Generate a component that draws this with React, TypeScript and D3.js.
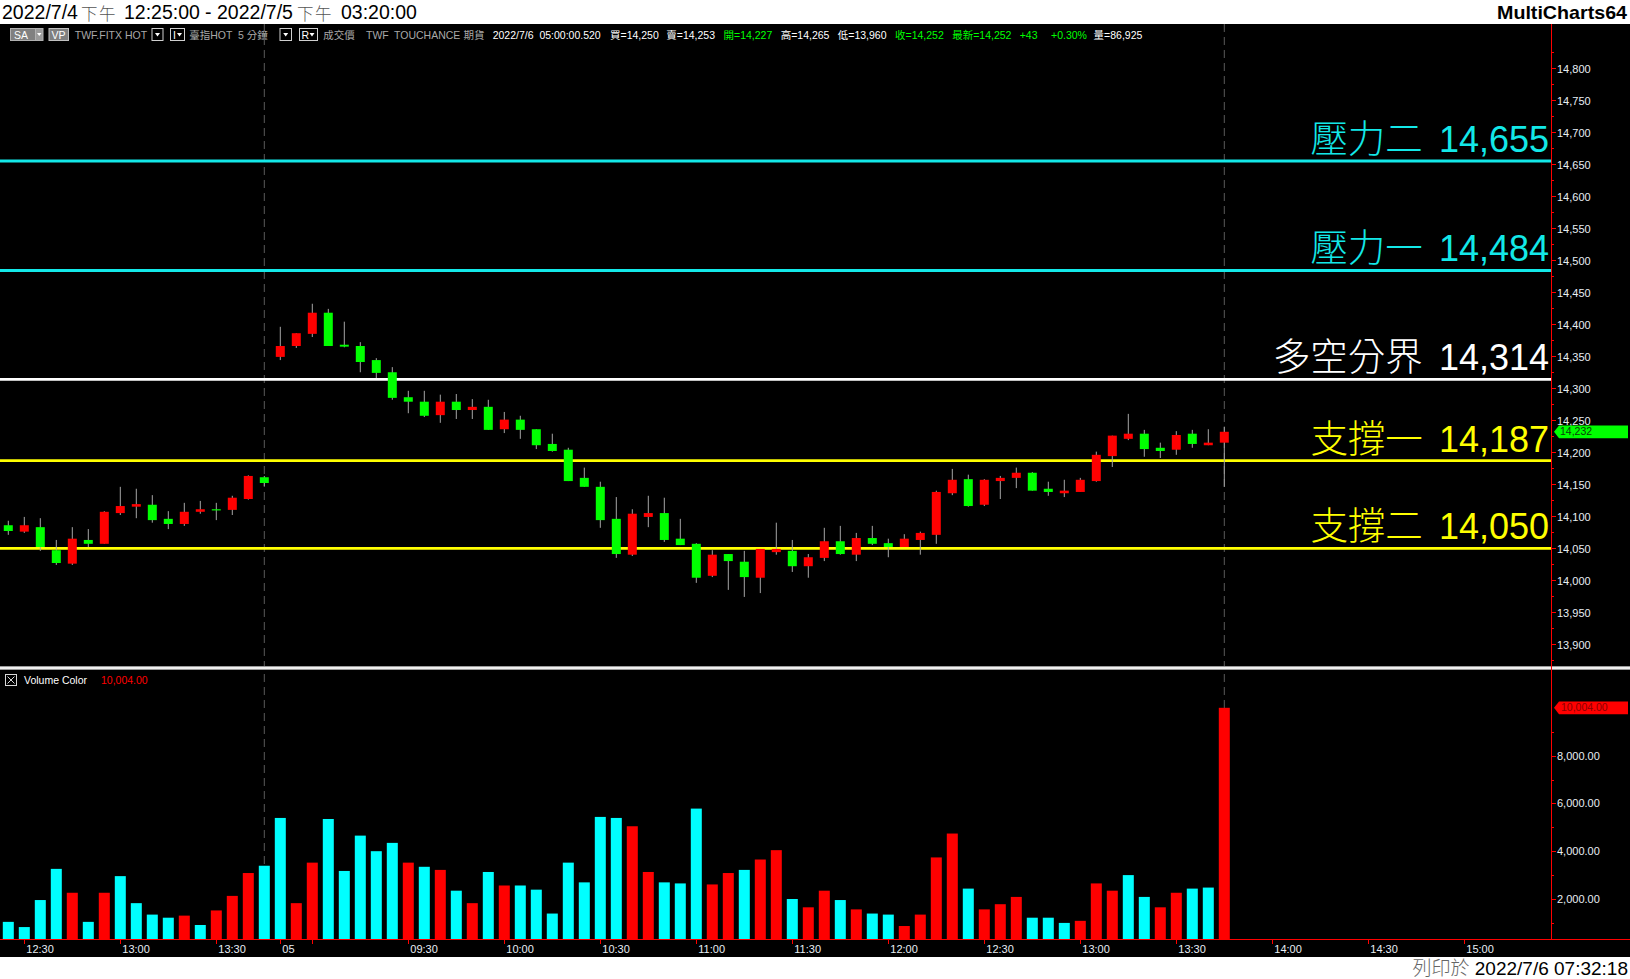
import React from 'react';
import * as d3 from 'd3';

// ---------- categories (5-minute bar times) ----------
function slotRange(day: string, start: string, end: string): string[] {
  const out: string[] = [];
  let [h, m] = start.split(':').map(Number);
  const [eh, em] = end.split(':').map(Number);
  while (h * 60 + m <= eh * 60 + em) {
    out.push(`${day} ${String(h).padStart(2, '0')}:${String(m).padStart(2, '0')}`);
    m += 5;
    if (m >= 60) { m -= 60; h += 1; }
  }
  return out;
}
const barTimes = [...slotRange('7/4', '12:25', '13:45'), ...slotRange('7/5', '08:50', '13:45')];
const futureTimes = slotRange('7/5', '13:50', '15:20');
const sessionEnds = ['7/4 13:45', '7/5 13:45'];

// ---------- OHLC series ----------
const opens = [14086, 14076, 14083, 14047, 14026, 14063, 14057, 14105, 14115, 14118, 14096, 14088, 14107, 14111, 14110, 14127, 14161,
  14349, 14366, 14385, 14418, 14368, 14366, 14344, 14325, 14286, 14279, 14258, 14279, 14266, 14271, 14236, 14251, 14236, 14213, 14204, 14160, 14146, 14096, 14040,
  14099, 14105, 14065, 14057, 14007, 14041, 14029, 14004, 14044, 14046, 14022, 14035, 14061, 14040, 14066, 14058, 14052, 14063, 14071, 14136,
  14158, 14118, 14155, 14160, 14168, 14143, 14136, 14138, 14155, 14194, 14221, 14229, 14207, 14204, 14229, 14211, 14215];
const highs = [14093, 14099, 14097, 14063, 14083, 14080, 14108, 14146, 14143, 14133, 14108, 14121, 14124, 14121, 14132, 14164, 14163,
  14396, 14386, 14432, 14424, 14404, 14372, 14347, 14333, 14296, 14296, 14290, 14291, 14283, 14282, 14263, 14257, 14236, 14229, 14207, 14176, 14154, 14130, 14111,
  14132, 14129, 14096, 14058, 14047, 14041, 14046, 14049, 14090, 14063, 14041, 14082, 14085, 14074, 14085, 14065, 14072, 14076, 14140, 14174,
  14165, 14158, 14163, 14176, 14169, 14154, 14157, 14160, 14201, 14226, 14260, 14235, 14215, 14233, 14235, 14236, 14240];
const lows = [14071, 14074, 14046, 14024, 14024, 14052, 14057, 14102, 14097, 14090, 14080, 14085, 14104, 14094, 14102, 14126, 14147,
  14344, 14363, 14380, 14366, 14364, 14325, 14316, 14282, 14261, 14255, 14246, 14252, 14252, 14235, 14230, 14221, 14205, 14201, 14155, 14146, 14082, 14035, 14038,
  14083, 14060, 14055, 13996, 14005, 13985, 13974, 13980, 14040, 14013, 14004, 14030, 14040, 14030, 14055, 14036, 14052, 14040, 14057, 14133,
  14115, 14116, 14127, 14144, 14140, 14132, 14130, 14138, 14154, 14177, 14219, 14193, 14191, 14196, 14207, 14211, 14146];
const closes = [14077, 14086, 14052, 14027, 14065, 14057, 14107, 14116, 14119, 14094, 14088, 14107, 14111, 14110, 14129, 14163, 14152,
  14366, 14386, 14418, 14366, 14365, 14341, 14324, 14285, 14279, 14257, 14279, 14266, 14271, 14235, 14251, 14235, 14211, 14202, 14155, 14146, 14094, 14041, 14104,
  14105, 14063, 14055, 14004, 14040, 14030, 14005, 14049, 14049, 14022, 14036, 14061, 14041, 14066, 14057, 14052, 14065, 14074, 14138, 14157,
  14116, 14157, 14160, 14168, 14140, 14138, 14140, 14157, 14196, 14226, 14229, 14205, 14202, 14227, 14213, 14215, 14232];

// ---------- volume ----------
const volumes = [1044, 826, 1957, 3262, 2262, 1044, 2262, 2958, 1827, 1348, 1218, 1305, 913, 1522, 2131, 3088, 3393,
  5394, 1827, 3523, 5350, 3175, 4654, 4002, 4350, 3523, 3349, 3219, 2349, 1827, 3132, 2566, 2566, 2392, 1392, 3523, 2697, 5437, 5394, 5046,
  3132, 2697, 2653, 5785, 2610, 3088, 3219, 3654, 4045, 2001, 1653, 2349, 1957, 1566, 1392, 1348, 870, 1348, 3741, 4741,
  2436, 1566, 1783, 2088, 1218, 1218, 1000, 1087, 2653, 2349, 3001, 2088, 1653, 2262, 2436, 2479, 10004];
// u = up colour (red), d = down colour (cyan)
const volumeDir = ['d', 'd', 'd', 'd', 'u', 'd', 'u', 'd', 'd', 'd', 'd', 'u', 'd', 'u', 'u', 'u', 'd',
  'd', 'u', 'u', 'd', 'd', 'd', 'd', 'd', 'u', 'd', 'u', 'd', 'u', 'd', 'u', 'd', 'd', 'd', 'd', 'd', 'd', 'd', 'u',
  'u', 'd', 'd', 'd', 'u', 'u', 'd', 'u', 'u', 'd', 'u', 'u', 'd', 'u', 'd', 'd', 'u', 'u', 'u', 'u',
  'd', 'u', 'u', 'u', 'd', 'd', 'd', 'u', 'u', 'u', 'd', 'd', 'u', 'u', 'd', 'd', 'u'];

// ---------- levels ----------
const levelValues = [14655, 14484, 14314, 14187, 14050];
const levelNames = ['壓力二', '壓力一', '多空分界', '支撐一', '支撐二'];

// ---------- axis ticks ----------
const priceTicks = d3.range(13900, 14801, 50);
const priceMinorTicks = d3.range(13875, 14826, 50);
const volumeTicks = [2000, 4000, 6000, 8000];
const volumeMinorTicks = [1000, 3000, 5000, 7000, 9000];
const timeTickKeys = ['7/4 12:30', '7/4 13:00', '7/4 13:30', '7/5 08:50', '7/5 09:00', '7/5 09:30', '7/5 10:00', '7/5 10:30', '7/5 11:00',
  '7/5 11:30', '7/5 12:00', '7/5 12:30', '7/5 13:00', '7/5 13:30', '7/5 14:00', '7/5 14:30', '7/5 15:00'];
const timeTickLabels = ['12:30', '13:00', '13:30', '05', '', '09:30', '10:00', '10:30', '11:00',
  '11:30', '12:00', '12:30', '13:00', '13:30', '14:00', '14:30', '15:00'];

const lastPrice = 14232;
const lastVolume = 10004;

const W = 1630;
const H = 979;
const AXIS_X = 1551;
const SANS = "'Liberation Sans', Arial, 'Noto Sans CJK TC', sans-serif";
const CJK = "'Noto Sans CJK TC', 'Liberation Sans', sans-serif";
const RED = '#ff0000';
const GREEN = '#00ff00';
const CYAN = '#00ffff';
const levelColors = ['#13e8e8', '#13e8e8', '#ffffff', '#ffff00', '#ffff00'];

export default function App() {
  const slots = [...barTimes, ...futureTimes];
  const x = d3.scalePoint<string>().domain(slots).range([8.3, 8.3 + 16 * (slots.length - 1)]);
  const y = d3.scaleLinear().domain([13900, 14800]).range([644.3, 68.2]);
  const yv = d3.scaleLinear().domain([0, 10000]).range([946.8, 707.9]);
  const fmt = d3.format(',');
  const fmt2 = d3.format(',.2f');

  const bodyW = 9;
  const volW = 11;

  const header = [
    { t: 'TWF.FITX HOT', x: 74.8, c: '#a8a8a8' },
    { t: '臺指HOT  5 分鐘', x: 189.2, c: '#a8a8a8' },
    { t: '成交價', x: 323.3, c: '#a8a8a8' },
    { t: 'TWF', x: 366, c: '#a8a8a8' },
    { t: 'TOUCHANCE', x: 394, c: '#a8a8a8' },
    { t: '期貨', x: 463.6, c: '#a8a8a8' },
    { t: '2022/7/6  05:00:00.520', x: 492.7, c: '#ffffff' },
    { t: '買=14,250', x: 610, c: '#ffffff' },
    { t: '賣=14,253', x: 666.3, c: '#ffffff' },
    { t: '開=14,227', x: 723.5, c: GREEN },
    { t: '高=14,265', x: 780.7, c: '#ffffff' },
    { t: '低=13,960', x: 837.8, c: '#ffffff' },
    { t: '收=14,252', x: 895, c: GREEN },
    { t: '最新=14,252', x: 952.2, c: GREEN },
    { t: '+43', x: 1019.7, c: GREEN },
    { t: '+0.30%', x: 1051, c: GREEN },
    { t: '量=86,925', x: 1093.6, c: '#ffffff' },
  ];

  const title = [
    { t: '2022/7/4', x: 2, cjk: false },
    { t: '下午', x: 81, cjk: true },
    { t: '12:25:00', x: 124, cjk: false },
    { t: '-', x: 205, cjk: false },
    { t: '2022/7/5', x: 217, cjk: false },
    { t: '下午', x: 297, cjk: true },
    { t: '03:20:00', x: 341, cjk: false },
  ];

  const py = y(lastPrice);
  const vy = yv(lastVolume);

  return (
    <div>
      <style>{`body{margin:0;background:#000;overflow:hidden}`}</style>
      <svg width={W} height={H} style={{ display: 'block' }} xmlns="http://www.w3.org/2000/svg">
        <defs>
          <clipPath id="pricePane"><rect x={0} y={24} width={AXIS_X} height={642} /></clipPath>
          <clipPath id="volPane"><rect x={0} y={670} width={AXIS_X} height={269} /></clipPath>
        </defs>
        <rect x={0} y={0} width={W} height={H} fill="#000" />
        {/* title bar */}
        <rect x={0} y={0} width={W} height={24} fill="#fff" />
        {title.map((p, i) => (
          <text key={i} x={p.x} y={p.cjk ? 19.5 : 19} fontFamily={p.cjk ? CJK : SANS} fontSize={p.cjk ? 16.5 : 19.5}
            letterSpacing={p.cjk ? 1.5 : 0} fontWeight={p.cjk ? 300 : 400} fill={p.cjk ? '#555' : '#000'}>{p.t}</text>
        ))}
        <text x={1627} y={19} textAnchor="end" fontFamily={SANS} fontSize={19} fontWeight="bold" fill="#000" textLength={130} lengthAdjust="spacingAndGlyphs">MultiCharts64</text>

        {/* header controls */}
        <g fontFamily={SANS} fontSize={10.5}>
          <rect x={10.5} y={28.5} width={25} height={12} fill="#808080" stroke="#b0b0b0" />
          <text x={14} y={38.5} fill="#fff">SA</text>
          <rect x={35.5} y={28.5} width={7.5} height={12} fill="#9a9a9a" stroke="#b0b0b0" />
          <path d="M37 33 L41.5 33 L39.25 36 Z" fill="#fff" />
          <rect x={49} y={28.5} width={19.5} height={12} fill="#808080" stroke="#c0c0c0" />
          <text x={51.5} y={38.5} fill="#fff">VP</text>
          <rect x={152} y={28.5} width={11} height={12} fill="#000" stroke="#d0d0d0" />
          <path d="M155 33 L160 33 L157.5 36.5 Z" fill="#fff" />
          <rect x={170.5} y={28.5} width={14} height={12} fill="#000" stroke="#d0d0d0" />
          <text x={173} y={38.5} fill="#fff">I</text>
          <path d="M177 33 L182 33 L179.5 36.5 Z" fill="#fff" />
          <rect x={280} y={28.5} width={11.5} height={12} fill="#000" stroke="#d0d0d0" />
          <path d="M283.2 33 L288.2 33 L285.7 36.5 Z" fill="#fff" />
          <rect x={299.5} y={28.5} width={18} height={12} fill="#000" stroke="#d0d0d0" />
          <text x={301.5} y={38.5} fill="#fff">R</text>
          <path d="M309.5 33 L314.5 33 L312 36.5 Z" fill="#fff" />
          {header.map((h, i) => (
            <text key={i} x={h.x} y={38.5} fill={h.c} style={{ whiteSpace: 'pre' }}>{h.t}</text>
          ))}
        </g>

        {/* session separators */}
        {sessionEnds.map((k) => (
          <line key={k} x1={x(k)!} x2={x(k)!} y1={24} y2={939} stroke="#5a5a5a" strokeWidth={1} strokeDasharray="8,5" />
        ))}

        {/* support / resistance levels */}
        <g clipPath="url(#pricePane)">
          {levelValues.map((v, i) => (
            <g key={v}>
              <line x1={0} x2={AXIS_X} y1={y(v)} y2={y(v)} stroke={levelColors[i]} strokeWidth={2.8} />
              <text x={1549} y={y(v) - 9} textAnchor="end" fontSize={36} fill={levelColors[i]}>
                <tspan fontFamily={CJK} fontWeight={300} fontSize={37.5}>{levelNames[i]}</tspan>
                <tspan fontFamily={SANS} dx={6}>{' ' + fmt(v)}</tspan>
              </text>
            </g>
          ))}
        </g>

        {/* candles */}
        <g clipPath="url(#pricePane)">
          {barTimes.map((t, i) => {
            const cx = x(t)!;
            const up = closes[i] > opens[i];
            const top = y(Math.max(opens[i], closes[i]));
            const bot = y(Math.min(opens[i], closes[i]));
            return (
              <g key={t}>
                <line x1={cx} x2={cx} y1={y(highs[i])} y2={y(lows[i])} stroke="#a6a6a6" strokeWidth={1} />
                <rect x={cx - bodyW / 2} y={top} width={bodyW} height={Math.max(bot - top, 1.2)} fill={up ? RED : GREEN} />
              </g>
            );
          })}
        </g>

        {/* pane separator */}
        <rect x={0} y={666} width={W} height={4} fill="#9a9a9a" />
        <rect x={0} y={667} width={W} height={2} fill="#f0f0f0" />

        {/* volume label */}
        <g fontFamily={SANS} fontSize={10.5}>
          <rect x={5.5} y={674.5} width={11} height={11} fill="none" stroke="#d8d8d8" />
          <path d="M7.5 676.5 L14.5 683.5 M14.5 676.5 L7.5 683.5" stroke="#d8d8d8" strokeWidth={1} />
          <text x={24} y={684} fill="#fff">Volume Color</text>
          <text x={101} y={684} fill={RED}>{fmt2(lastVolume)}</text>
        </g>

        {/* volume bars */}
        <g clipPath="url(#volPane)">
          {barTimes.map((t, i) => (
            <rect key={t} x={x(t)! - volW / 2} y={yv(volumes[i])} width={volW} height={yv(0) - yv(volumes[i])}
              fill={volumeDir[i] === 'u' ? RED : CYAN} />
          ))}
        </g>

        {/* axes lines */}
        <line x1={AXIS_X + 0.5} x2={AXIS_X + 0.5} y1={24} y2={940} stroke={RED} strokeWidth={1} />
        <line x1={0} x2={W} y1={939.5} y2={939.5} stroke={RED} strokeWidth={1} />

        {/* price axis */}
        <g fontFamily={SANS} fontSize={11} fill="#e8eef4">
          {priceMinorTicks.map((v) => (
            <line key={'m' + v} x1={AXIS_X} x2={AXIS_X + 3} y1={Math.round(y(v)) + 0.5} y2={Math.round(y(v)) + 0.5} stroke={RED} />
          ))}
          {priceTicks.map((v) => (
            <g key={v}>
              <line x1={AXIS_X} x2={AXIS_X + 5} y1={Math.round(y(v)) + 0.5} y2={Math.round(y(v)) + 0.5} stroke={RED} />
              <text x={1557} y={y(v) + 2} dominantBaseline="middle">{fmt(v)}</text>
            </g>
          ))}
        </g>
        <polygon points={`1554,${py} 1559,${py - 6.4} 1628,${py - 6.4} 1628,${py + 6.4} 1559,${py + 6.4}`} fill={GREEN} />
        <text x={1560} y={py + 0.5} dominantBaseline="middle" fontFamily={SANS} fontSize={10.5} fill="#0b3d0b">{fmt(lastPrice)}</text>

        {/* volume axis */}
        <g fontFamily={SANS} fontSize={11} fill="#e8eef4">
          {volumeMinorTicks.map((v) => (
            <line key={'m' + v} x1={AXIS_X} x2={AXIS_X + 3} y1={Math.round(yv(v)) + 0.5} y2={Math.round(yv(v)) + 0.5} stroke={RED} />
          ))}
          {volumeTicks.map((v) => (
            <g key={v}>
              <line x1={AXIS_X} x2={AXIS_X + 5} y1={Math.round(yv(v)) + 0.5} y2={Math.round(yv(v)) + 0.5} stroke={RED} />
              <text x={1557} y={yv(v) + 1} dominantBaseline="middle">{fmt2(v)}</text>
            </g>
          ))}
        </g>
        <polygon points={`1554,${vy} 1559,${vy - 6.4} 1628,${vy - 6.4} 1628,${vy + 6.4} 1559,${vy + 6.4}`} fill={RED} />
        <text x={1561} y={vy + 0.5} dominantBaseline="middle" fontFamily={SANS} fontSize={10.5} fill="#8a0000">{fmt2(lastVolume)}</text>

        {/* time axis */}
        <g fontFamily={SANS} fontSize={11} fill="#e8eef4">
          {timeTickKeys.map((k, i) => (
            <g key={k}>
              <line x1={Math.round(x(k)!) + 0.5} x2={Math.round(x(k)!) + 0.5} y1={939} y2={944} stroke={RED} />
              {timeTickLabels[i] && <text x={x(k)! + 2} y={950} dominantBaseline="middle">{timeTickLabels[i]}</text>}
            </g>
          ))}
        </g>

        {/* footer */}
        <rect x={0} y={957} width={W} height={22} fill="#fff" />
        <text x={1628} y={975} textAnchor="end" fontFamily={SANS} fontSize={19} fill="#000">
          <tspan fontFamily={CJK} fill="#666" fontWeight={300}>列印於</tspan> 2022/7/6 07:32:18
        </text>
      </svg>
    </div>
  );
}
